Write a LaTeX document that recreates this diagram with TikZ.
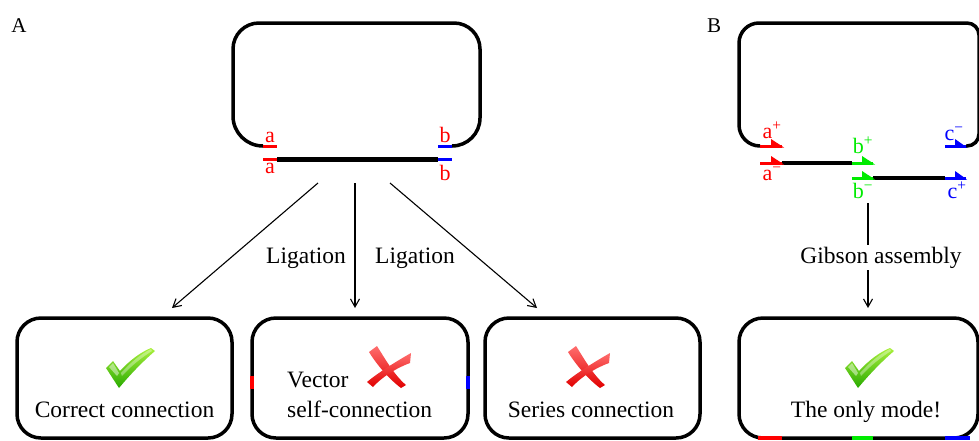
\documentclass[tikz,border=0pt]{standalone}
\usepackage{fontspec}
\setmainfont{Liberation Serif}
\usetikzlibrary{arrows.meta}
\definecolor{myred}{RGB}{255,0,0}
\definecolor{myblue}{RGB}{0,0,255}
\definecolor{mygreen}{RGB}{0,235,0}
\definecolor{chkl}{RGB}{170,240,60}
\definecolor{chkd}{RGB}{40,170,0}
\definecolor{xl}{RGB}{255,110,110}
\definecolor{xd}{RGB}{225,0,0}
\begin{document}
\begin{tikzpicture}[x=1pt,y=-1pt,
  loopline/.style={line width=3.5pt},
  strand/.style={line width=5pt},
  seg/.style={line width=3pt},
  modebox/.style={draw, line width=3.5pt, rounded corners=24pt, minimum height=120pt, inner sep=0pt},
  conn/.style={line width=1.1pt, -{Straight Barb[length=8pt,width=9pt,line width=1.1pt]}},
  maintext/.style={font=\fontsize{23.5}{30}\selectfont, inner sep=0pt},
  lab/.style={font=\fontsize{22}{26}\selectfont, inner sep=0pt, anchor=base},
  checkmark/.pic={
    \shade[top color=chkl, bottom color=chkd]
      (-24,0) -- (-17,-7) -- (-10,3) .. controls (0,-8) and (11,-16) .. (21,-20)
      -- (25,-17) .. controls (11,-5) and (-1,8) .. (-11,20) -- cycle;
    \fill[white, opacity=0.45] (-21,-1) -- (-17,-5) -- (-11,5) -- (-13,8) -- cycle;
    \fill[white, opacity=0.35] (-9,5) .. controls (1,-6) and (11,-14) .. (21,-19) -- (22,-17) .. controls (11,-10) and (1,-2) .. (-8,8) -- cycle;
  },
  xmark/.pic={
    \shade[top color=xl, bottom color=xd]
      (-20,-15) -- (-12,-21) .. controls (-5,-10) and (5,8) .. (17,18)
      -- (12,21) .. controls (0,12) and (-12,-2) .. cycle;
    \shade[top color=xl, bottom color=xd]
      (22,-14) -- (21,-4) .. controls (10,0) and (-5,8) .. (-16,20)
      -- (-22,15) .. controls (-10,5) and (8,-6) .. cycle;
  }
]
\useasboundingbox (0,0) rectangle (979,440);

% panel labels
\node[lab, font=\fontsize{21}{25}\selectfont] (pA) at (19,32) {A};
\node[lab, font=\fontsize{21}{25}\selectfont] (pB) at (714,32) {B};

% ---------- Panel A ----------
\draw[loopline] (263,146) arc[start angle=90, end angle=180, radius=30] -- (233,49)
  arc[start angle=180, end angle=270, radius=26] -- (454,23)
  arc[start angle=270, end angle=360, radius=26] -- (480,118)
  arc[start angle=0, end angle=90, radius=28];
\draw[seg, myred] (263,146) -- (277,146);
\draw[seg, myblue] (438,146) -- (452,146);
\draw[strand] (277,159) -- (438,159);
\draw[seg, myred] (263,159) -- (277,159);
\draw[seg, myblue] (438,159) -- (452,159);
\node[lab, text=myred] (a1) at (270,142) {a};
\node[lab, text=myred] (a2) at (270,173) {a};
\node[lab, text=myred] (b1) at (445,142) {b};
\node[lab, text=myred] (b2) at (445,180) {b};

\coordinate (s1) at (318,183);
\coordinate (s2) at (355,183);
\coordinate (s3) at (390,183);
\coordinate (e1) at (172,308);
\coordinate (e2) at (355,308);
\coordinate (e3) at (537,308);
\draw[conn] (s1) -- (e1);
\draw[conn] (s2) -- (e2);
\draw[conn] (s3) -- (e3);
\node[maintext, anchor=base] (lig1) at (306,263) {Ligation};
\node[maintext, anchor=base] (lig2) at (415,263) {Ligation};

% boxes
\node[modebox, minimum width=215pt] (box1) at (124.5,378) {};
\node[modebox, minimum width=216pt] (box2) at (360,378) {};
\node[modebox, minimum width=215pt] (box3) at (592.5,378) {};
\node[modebox, minimum width=239pt] (box4) at (858.5,378) {};

\draw[line width=3.5pt, myred] (252,376) -- (252,389);
\draw[line width=3.5pt, myblue] (468,376) -- (468,389);
\draw[line width=3.5pt, myred] (758,438) -- (782,438);
\draw[line width=3.5pt, mygreen] (852,438) -- (873,438);
\draw[line width=3.5pt, myblue] (945,438) -- (970,438);

\pic at (130,368) {checkmark};
\pic at (389,367) {xmark};
\pic at (588,367) {xmark};
\pic at (869,368) {checkmark};

\node[maintext, anchor=base] (t1) at (124.5,417) {Correct connection};
\node[maintext, anchor=base west] (t2a) at (287,387) {Vector};
\node[maintext, anchor=base west] (t2b) at (287,417) {self-connection};
\node[maintext, anchor=base] (t3) at (591,417) {Series connection};
\node[maintext, anchor=base] (t4) at (866,417) {The only mode!};

% ---------- Panel B ----------
\draw[loopline] (760,146) arc[start angle=90, end angle=180, radius=21] -- (739,43)
  arc[start angle=180, end angle=270, radius=20] -- (967,23)
  arc[start angle=270, end angle=360, radius=12] -- (979,134)
  arc[start angle=0, end angle=90, radius=12] -- (966,146);
% strand 1
\draw[seg, myred] (760,146) -- (782,146);
\fill[myred] (771,139) -- (784,147.5) -- (771,147.5) -- cycle;
\draw[seg, myblue] (945,146) -- (966,146);
\fill[myblue] (955,139) -- (967,147.5) -- (955,147.5) -- cycle;
% strand 2
\draw[line width=3.5pt] (782,163) -- (852,163);
\draw[seg, myred] (760,163) -- (782,163);
\fill[myred] (771,156) -- (784,164.5) -- (771,164.5) -- cycle;
\draw[seg, mygreen] (852,163) -- (873,163);
\fill[mygreen] (862,156) -- (875,164.5) -- (862,164.5) -- cycle;
% strand 3
\draw[line width=3.5pt] (873,178) -- (945,178);
\draw[seg, mygreen] (852,178) -- (873,178);
\fill[mygreen] (862,171) -- (875,179.5) -- (862,179.5) -- cycle;
\draw[seg, myblue] (945,178) -- (966,178);
\fill[myblue] (955,171) -- (967,179.5) -- (955,179.5) -- cycle;

\node[lab, text=myred] (ap) at (772,138) {a\textsuperscript{+}};
\node[lab, text=myred] (am) at (772,180) {a\textsuperscript{−}};
\node[lab, text=mygreen] (bp) at (863,153) {b\textsuperscript{+}};
\node[lab, text=mygreen] (bm) at (863,198) {b\textsuperscript{−}};
\node[lab, text=myblue] (cm) at (954,140) {c\textsuperscript{−}};
\node[lab, text=myblue] (cp) at (957,198) {c\textsuperscript{+}};

\coordinate (s4) at (868,203);
\coordinate (e4) at (868,308);
\draw[conn] (s4) -- (e4);
\node[maintext, anchor=base, fill=white, inner ysep=2pt] (gib) at (881,263) {Gibson assembly};
\end{tikzpicture}
\end{document}
